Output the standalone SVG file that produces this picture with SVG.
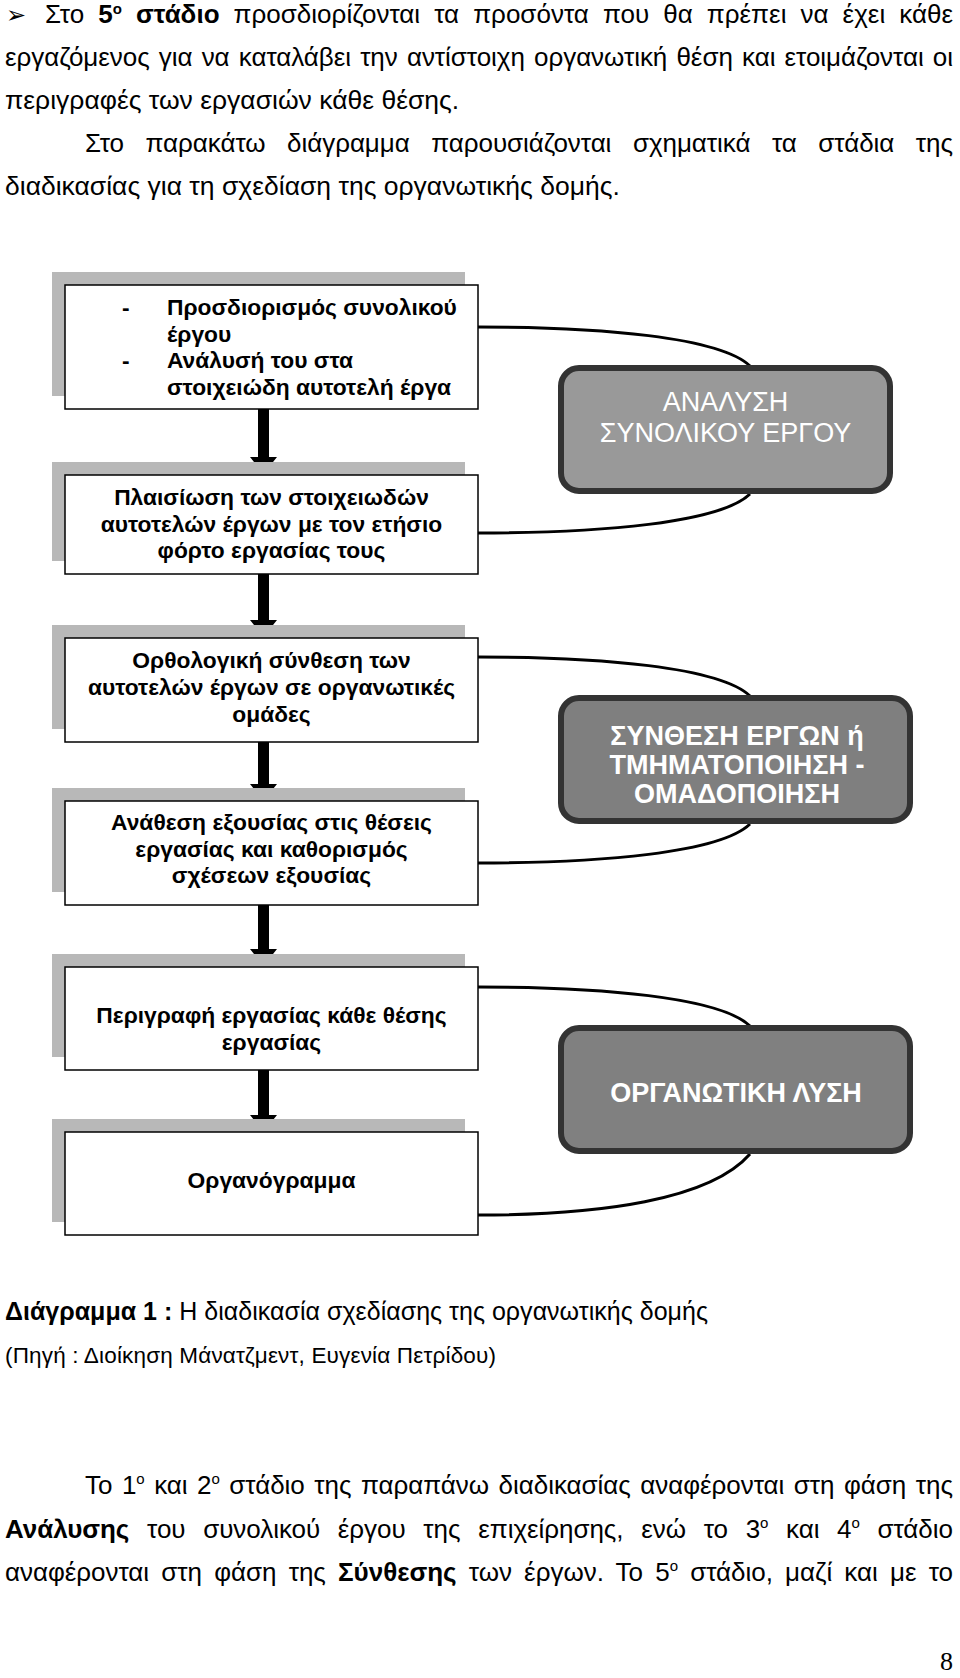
<svg xmlns="http://www.w3.org/2000/svg" width="960" height="1678" viewBox="0 0 960 1678">
<style>
.body{font-family:"Liberation Sans",Arial,sans-serif;font-size:26px;fill:#000}
.b{font-weight:bold}
.sup{font-size:15px}
.shadow{fill:#b8b8b8}
.box{fill:#fff;stroke:#000;stroke-width:1.5}
.bt{font-family:"Liberation Sans",Arial,sans-serif;font-size:22.8px;font-weight:bold;fill:#000}
.rb{stroke:#333;stroke-width:6}
.rt{font-family:"Liberation Sans",Arial,sans-serif;font-size:27px;fill:#fff;text-anchor:middle}
.curve{fill:none;stroke:#000;stroke-width:3}
.arrow{fill:#000}
</style>
<rect width="960" height="1678" fill="#fff"/>
<g id="intro">
<text x="6" y="23" style="font-family:'DejaVu Sans',sans-serif;font-size:24px">➢</text>
<text class="body" x="45" y="23" word-spacing="6.8" textLength="908" lengthAdjust="spacing">Στο <tspan class="b">5</tspan><tspan class="sup b" dy="-9">ο</tspan><tspan class="b" dy="9"> στάδιο</tspan> προσδιορίζονται τα προσόντα που θα πρέπει να έχει κάθε</text>
<text class="body" x="5" y="65.5" word-spacing="2" textLength="948" lengthAdjust="spacing">εργαζόμενος για να καταλάβει την αντίστοιχη οργανωτική θέση και ετοιμάζονται οι</text>
<text class="body" x="5" y="108.5" style="font-size:26.5px">περιγραφές των εργασιών κάθε θέσης.</text>
<text class="body" x="85" y="151.5" word-spacing="14.4" textLength="868" lengthAdjust="spacing">Στο παρακάτω διάγραμμα παρουσιάζονται σχηματικά τα στάδια της</text>
<text class="body" x="5" y="195" style="font-size:26.5px">διαδικασίας για τη σχεδίαση της οργανωτικής δομής.</text>
</g>
<g id="connectors">
<polygon class="arrow" points="258,409 269,409 269,457 277,457 263.5,474 250,457 258,457"/>
<polygon class="arrow" points="258,574 269,574 269,620 277,620 263.5,637 250,620 258,620"/>
<polygon class="arrow" points="258,742 269,742 269,784 277,784 263.5,801 250,784 258,784"/>
<polygon class="arrow" points="258,905 269,905 269,949 277,949 263.5,966 250,949 258,949"/>
<polygon class="arrow" points="258,1070 269,1070 269,1115 277,1115 263.5,1132 250,1115 258,1115"/>
<path class="curve" d="M478,327 C600,327 720,337 750,366"/>
<path class="curve" d="M478,533 C600,533 720,523 750,494"/>
<path class="curve" d="M478,657 C600,657 720,667 750,696"/>
<path class="curve" d="M478,863 C600,863 720,853 750,824"/>
<path class="curve" d="M478,987 C600,987 720,997 750,1026"/>
<path class="curve" d="M478,1215 C600,1215 710,1200 750,1154"/>
</g>
<g id="step1">
<rect class="shadow" x="52" y="272" width="413" height="124"/>
<rect class="box" x="65" y="285" width="413" height="124"/>
<text class="bt" x="122" y="315">-</text>
<text class="bt" x="167" y="315">Προσδιορισμός συνολικού</text>
<text class="bt" x="167" y="342">έργου</text>
<text class="bt" x="122" y="368">-</text>
<text class="bt" x="167" y="368">Ανάλυσή του στα</text>
<text class="bt" x="167" y="395">στοιχειώδη αυτοτελή έργα</text>
</g>
<g id="step2">
<rect class="shadow" x="52" y="462" width="413" height="99"/>
<rect class="box" x="65" y="475" width="413" height="99"/>
<text class="bt" text-anchor="middle" x="271.5" y="505">Πλαισίωση των στοιχειωδών</text>
<text class="bt" text-anchor="middle" x="271.5" y="532">αυτοτελών έργων με τον ετήσιο</text>
<text class="bt" text-anchor="middle" x="271.5" y="558">φόρτο εργασίας τους</text>
</g>
<g id="step3">
<rect class="shadow" x="52" y="625" width="413" height="104"/>
<rect class="box" x="65" y="638" width="413" height="104"/>
<text class="bt" text-anchor="middle" x="271.5" y="668">Ορθολογική σύνθεση των</text>
<text class="bt" text-anchor="middle" x="271.5" y="695">αυτοτελών έργων σε οργανωτικές</text>
<text class="bt" text-anchor="middle" x="271.5" y="722">ομάδες</text>
</g>
<g id="step4">
<rect class="shadow" x="52" y="788" width="413" height="104"/>
<rect class="box" x="65" y="801" width="413" height="104"/>
<text class="bt" text-anchor="middle" x="271.5" y="830">Ανάθεση εξουσίας στις θέσεις</text>
<text class="bt" text-anchor="middle" x="271.5" y="857">εργασίας και καθορισμός</text>
<text class="bt" text-anchor="middle" x="271.5" y="883">σχέσεων εξουσίας</text>
</g>
<g id="step5">
<rect class="shadow" x="52" y="954" width="413" height="103"/>
<rect class="box" x="65" y="967" width="413" height="103"/>
<text class="bt" text-anchor="middle" x="271.5" y="1023">Περιγραφή εργασίας κάθε θέσης</text>
<text class="bt" text-anchor="middle" x="271.5" y="1050">εργασίας</text>
</g>
<g id="step6">
<rect class="shadow" x="52" y="1119" width="413" height="103"/>
<rect class="box" x="65" y="1132" width="413" height="103"/>
<text class="bt" text-anchor="middle" x="271.5" y="1188">Οργανόγραμμα</text>
</g>
<g id="phase1">
<rect class="rb" x="561" y="368" width="329" height="123" rx="18" fill="#999"/>
<text class="rt" x="725.5" y="411">ΑΝΑΛΥΣΗ</text>
<text class="rt" x="725.5" y="442">ΣΥΝΟΛΙΚΟΥ ΕΡΓΟΥ</text>
</g>
<g id="phase2">
<rect class="rb" x="561" y="698" width="349" height="123" rx="18" fill="#7f7f7f"/>
<text class="rt b" x="737" y="745">ΣΥΝΘΕΣΗ ΕΡΓΩΝ ή</text>
<text class="rt b" x="737" y="774">ΤΜΗΜΑΤΟΠΟΙΗΣΗ -</text>
<text class="rt b" x="737" y="803">ΟΜΑΔΟΠΟΙΗΣΗ</text>
</g>
<g id="phase3">
<rect class="rb" x="561" y="1028" width="349" height="123" rx="18" fill="#808080"/>
<text class="rt b" x="736" y="1102">ΟΡΓΑΝΩΤΙΚΗ ΛΥΣΗ</text>
</g>
<g id="caption">
<text class="body" x="5" y="1320" style="font-size:25px" textLength="703" lengthAdjust="spacing"><tspan class="b">Διάγραμμα 1 :</tspan> Η διαδικασία σχεδίασης της οργανωτικής δομής</text>
<text class="body" x="5" y="1363" style="font-size:22.5px" textLength="491" lengthAdjust="spacing">(Πηγή : Διοίκηση Μάνατζμεντ, Ευγενία Πετρίδου)</text>
</g>
<g id="outro">
<text class="body" x="85" y="1494" word-spacing="2.3" textLength="868" lengthAdjust="spacing">Το 1<tspan class="sup" dy="-10">ο</tspan><tspan dy="10"> και 2</tspan><tspan class="sup" dy="-10">ο</tspan><tspan dy="10"> στάδιο της παραπάνω διαδικασίας αναφέρονται στη φάση της</tspan></text>
<text class="body" x="5" y="1538" word-spacing="10.5" textLength="948" lengthAdjust="spacing"><tspan class="b">Ανάλυσης</tspan> του συνολικού έργου της επιχείρησης, ενώ το 3<tspan class="sup" dy="-10">ο</tspan><tspan dy="10"> και 4</tspan><tspan class="sup" dy="-10">ο</tspan><tspan dy="10"> στάδιο</tspan></text>
<text class="body" x="5" y="1581" word-spacing="5" textLength="948" lengthAdjust="spacing">αναφέρονται στη φάση της <tspan class="b">Σύνθεσης</tspan> των έργων. Το 5<tspan class="sup" dy="-10">ο</tspan><tspan dy="10"> στάδιο, μαζί και με το</tspan></text>
<text x="940" y="1670" style="font-family:'Liberation Serif',serif;font-size:26px">8</text>
</g>
</svg>
